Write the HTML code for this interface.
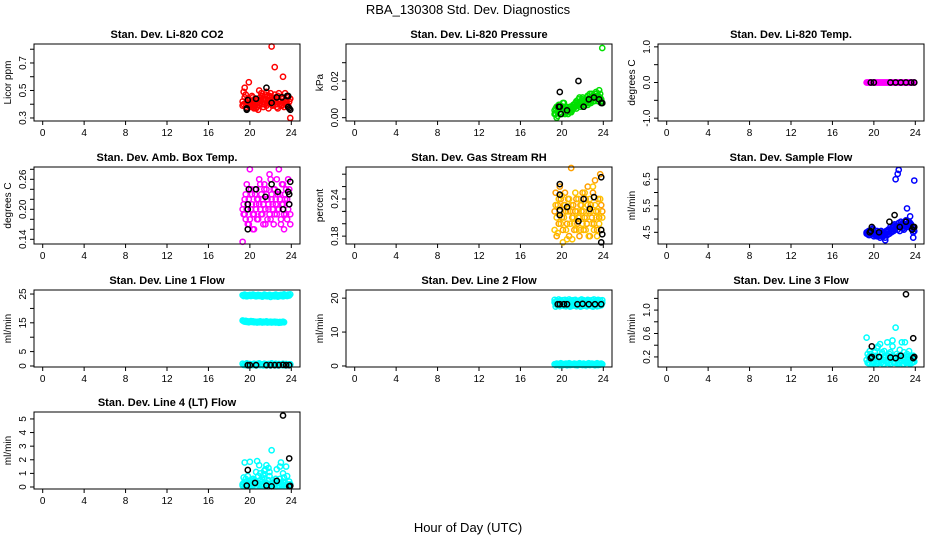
<!DOCTYPE html>
<html><head><meta charset="utf-8"><style>
html,body{margin:0;padding:0;background:#fff;}
svg{display:block;font-family:"Liberation Sans",Arial,sans-serif;}
</style></head><body>
<svg id="chart" width="936" height="540" viewBox="0 0 936 540" xmlns="http://www.w3.org/2000/svg">
<text x="468" y="14" font-size="13" text-anchor="middle">RBA_130308  Std. Dev. Diagnostics</text>
<text x="468" y="532" font-size="13" text-anchor="middle">Hour of Day (UTC)</text>
</svg>
<script>
const hrs=[19.3,19.4,19.5,19.6,19.7,19.8,19.9,20.0,20.1,20.2,20.3,20.4,20.5,20.6,20.7,20.8,20.9,21.0,21.1,21.2,21.3,21.4,21.5,21.6,21.7,21.8,21.9,22.0,22.1,22.2,22.3,22.4,22.5,22.6,22.7,22.8,22.9,23.0,23.1,23.2,23.3,23.4,23.5,23.6,23.7,23.8,23.9];
const xTicks=[0,4,8,12,16,20,24];

const co2A=[0.42,0.40,0.45,0.38,0.41,0.44,0.39,0.43,0.40,0.46,0.38,0.42,0.44,0.37,0.41,0.43,0.39,0.45,0.48,0.40,0.44,0.42,0.47,0.39,0.46,0.43,0.41,0.48,0.45,0.40,0.44,0.47,0.42,0.38,0.46,0.43,0.40,0.45,0.39,0.44,0.41,0.48,0.43,0.40,0.45,0.42,0.44];
const co2B=[0.39,0.49,0.52,0.47,0.37,0.40,0.56,0.38,0.42,0.39,0.45,0.37,0.40,0.43,0.38,0.36,0.50,0.41,0.43,0.46,0.38,0.40,0.44,0.49,0.41,0.37,0.46,0.43,0.82,0.39,0.42,0.67,0.45,0.40,0.37,0.48,0.42,0.39,0.41,0.60,0.38,0.43,0.40,0.46,0.39,0.37,0.30];
const co2BlkX=[19.7,19.7,19.8,20.6,21.6,22.1,22.6,23.1,23.6,23.7,23.8,23.7,23.9];
const co2BlkY=[0.37,0.36,0.43,0.44,0.52,0.41,0.45,0.45,0.46,0.46,0.37,0.38,0.36];

const prsA=[0.004,0.002,0.006,0.001,0.005,0.007,0.003,0.006,0.008,0.004,0.002,0.006,0.003,0.005,0.004,0.006,0.003,0.005,0.007,0.006,0.008,0.009,0.007,0.010,0.008,0.006,0.009,0.011,0.008,0.007,0.010,0.009,0.012,0.008,0.011,0.010,0.013,0.009,0.012,0.011,0.014,0.010,0.012,0.015,0.011,0.009,0.038];
const prsB=[0.002,0.005,0.000,0.004,0.007,0.003,0.005,0.002,0.006,0.008,0.004,0.003,0.005,0.002,0.004,0.003,0.006,0.004,0.005,0.007,0.006,0.005,0.008,0.007,0.011,0.009,0.007,0.010,0.006,0.009,0.008,0.011,0.007,0.010,0.013,0.008,0.010,0.012,0.009,0.011,0.013,0.012,0.009,0.011,0.013,0.010,0.008];
const prsBlkX=[19.8,19.8,19.7,19.9,20.5,21.6,22.1,22.6,23.1,23.6,23.8,23.9];
const prsBlkY=[0.014,0.006,0.006,0.002,0.004,0.020,0.006,0.010,0.011,0.010,0.008,0.008];

const tmpA=[0,0,0,0,0,0,0,0,0,0,0,0,0,0,0,0,0,0,0,0,0,0,0,0,0,0,0,0,0,0,0,0,0,0,0,0,0,0,0,0,0,0,0,0,0,0,0];
const tmpBlkX=[19.7,20.0,21.6,22.1,22.6,23.1,23.6,23.9];
const tmpBlkY=[0,0,0,0,0,0,0,0];

const ambA=[0.20,0.19,0.22,0.18,0.25,0.21,0.17,0.28,0.20,0.23,0.16,0.19,0.24,0.21,0.18,0.22,0.26,0.20,0.23,0.19,0.21,0.25,0.17,0.24,0.22,0.20,0.27,0.18,0.23,0.21,0.24,0.19,0.22,0.26,0.20,0.28,0.23,0.17,0.21,0.25,0.19,0.22,0.24,0.18,0.26,0.21,0.19];
const ambB=[0.135,0.21,0.19,0.23,0.20,0.17,0.22,0.18,0.24,0.21,0.19,0.16,0.23,0.20,0.22,0.18,0.21,0.25,0.19,0.22,0.17,0.24,0.20,0.23,0.18,0.21,0.19,0.26,0.22,0.20,0.17,0.24,0.21,0.19,0.23,0.20,0.22,0.18,0.25,0.21,0.16,0.23,0.19,0.22,0.20,0.24,0.17];
const ambBlkX=[19.8,19.8,19.9,20.6,19.8,21.5,22.1,22.7,23.2,23.7,23.8,23.9,23.8];
const ambBlkY=[0.20,0.21,0.24,0.24,0.16,0.225,0.25,0.235,0.20,0.235,0.23,0.255,0.21];

const rhA=[0.22,0.25,0.18,0.23,0.20,0.26,0.24,0.21,0.19,0.23,0.25,0.22,0.20,0.24,0.18,0.22,0.29,0.21,0.23,0.19,0.22,0.24,0.20,0.21,0.18,0.23,0.22,0.25,0.19,0.21,0.24,0.20,0.26,0.22,0.18,0.23,0.21,0.25,0.20,0.27,0.22,0.19,0.24,0.21,0.28,0.23,0.22];
const rhB=[0.19,0.23,0.21,0.185,0.24,0.22,0.20,0.245,0.17,0.21,0.23,0.19,0.175,0.22,0.24,0.20,0.23,0.175,0.21,0.20,0.25,0.19,0.22,0.24,0.21,0.19,0.23,0.20,0.22,0.25,0.19,0.21,0.23,0.18,0.24,0.22,0.20,0.26,0.19,0.23,0.21,0.18,0.22,0.20,0.24,0.19,0.21];
const rhBlkX=[19.8,19.8,19.8,19.8,20.5,21.6,22.1,22.7,23.1,23.8,23.8,23.9,23.8];
const rhBlkY=[0.264,0.247,0.222,0.214,0.227,0.204,0.240,0.224,0.243,0.275,0.190,0.183,0.170];

const sfA=[4.5,4.45,4.55,4.4,4.5,4.6,4.45,4.35,4.5,4.4,4.55,4.35,4.45,4.3,4.4,4.5,4.35,4.45,4.3,4.5,4.4,4.55,4.45,4.6,4.5,4.7,4.55,4.8,4.65,4.75,4.6,4.85,4.7,4.9,4.75,4.65,4.8,4.9,4.7,5.4,4.85,4.75,5.1,4.8,4.65,4.3,6.45];
const sfB=[4.45,4.5,4.4,4.55,4.45,4.5,4.65,4.5,4.4,4.45,4.35,4.5,4.4,4.45,4.55,4.35,4.45,4.4,4.2,4.55,4.5,4.6,4.45,4.7,4.55,4.65,4.75,4.6,6.5,4.7,6.7,6.85,4.55,4.8,4.7,4.85,4.6,4.75,4.95,4.8,4.7,4.9,4.85,4.75,4.6,4.5,4.55];
const sfBlkX=[19.6,19.7,19.8,20.5,21.5,22.0,22.5,23.1,23.7,23.8,23.9];
const sfBlkY=[4.5,4.55,4.7,4.5,4.9,5.15,4.7,4.9,4.6,4.7,4.7];

const l1A=[24.6,24.3,24.8,24.5,24.2,24.6,24.4,24.7,24.3,24.5,24.8,24.4,24.6,24.2,24.5,24.7,24.3,24.6,24.4,24.1,24.5,24.8,24.3,24.6,24.2,24.4,24.7,24.0,24.5,24.3,24.6,24.2,24.8,24.4,24.1,24.6,24.3,24.7,24.5,24.2,24.9,24.4,24.6,24.3,24.8,24.5,24.9];
const l1B=[15.8,15.6,15.4,15.7,15.3,15.5,15.2,15.4,15.6,15.3,15.5,15.2,15.4,15.3,15.1,15.4,15.2,15.5,15.3,15.1,15.4,15.2,15.3,15.5,15.1,15.3,15.2,15.4,15.1,15.3,15.2,15.4,15.1,15.3,15.2,15.0,15.3,15.1,15.2,15.4,15.2,0.4,0.6,0.3,0.5,0.4,0.6];
const l1C=[0.8,0.4,0.6,0.3,0.9,0.5,0.2,0.7,0.4,0.6,0.3,0.8,0.5,0.2,0.7,0.4,0.9,0.3,0.6,0.5,0.2,0.8,0.4,0.6,0.3,0.7,0.5,0.2,0.9,0.4,0.6,0.3,0.8,0.5,0.2,0.7,0.4,0.6,0.3,0.8,0.5,0.2,0.7,0.4,0.6,0.3,0.5];
const l1BlkX=[19.8,20.0,20.6,21.6,22.0,22.4,22.8,23.2,23.5,23.8];
const l1BlkY=[0.3,0.3,0.3,0.3,0.3,0.3,0.3,0.4,0.3,0.3];

const l2A=[18.8,18.2,19.0,18.5,18.3,18.7,18.1,18.9,18.4,18.6,18.2,18.8,18.5,18.3,18.7,18.0,18.6,18.4,18.9,18.2,18.5,18.7,18.3,18.8,18.4,18.6,18.1,18.9,18.5,18.3,18.7,18.4,18.6,18.2,18.8,18.5,18.3,18.7,18.4,18.9,18.2,18.6,18.5,18.3,18.7,18.4,18.6];
const l2B=[19.5,17.5,19.2,17.8,19.6,17.6,19.3,17.9,19.4,17.7,19.5,17.6,19.2,17.8,19.6,17.5,19.3,17.7,19.4,17.9,19.5,17.6,19.2,17.8,19.3,17.5,19.6,17.7,19.4,17.8,19.2,17.6,19.5,17.9,19.3,17.7,19.4,17.5,19.6,17.8,19.2,17.6,19.5,17.7,19.3,17.9,19.4];
const l2C=[0.5,0.3,0.7,0.4,0.6,0.2,0.8,0.5,0.3,0.6,0.4,0.7,0.2,0.5,0.8,0.3,0.6,0.4,0.5,0.7,0.3,0.6,0.2,0.5,0.8,0.4,0.6,0.3,0.7,0.5,0.2,0.6,0.4,0.8,0.3,0.5,0.7,0.4,0.6,0.2,0.5,0.8,0.3,0.6,0.4,0.7,0.5];
const l2BlkX=[19.6,19.8,20.2,20.5,21.5,22.0,22.6,23.2,23.8];
const l2BlkY=[18.2,18.2,18.2,18.2,18.2,18.3,18.2,18.2,18.2];

const l3A=[0.15,0.25,0.1,0.3,0.18,0.08,0.22,0.12,0.28,0.15,0.35,0.1,0.2,0.42,0.14,0.25,0.08,0.3,0.18,0.12,0.45,0.22,0.1,0.28,0.15,0.48,0.2,0.12,0.7,0.25,0.1,0.18,0.32,0.14,0.22,0.08,0.28,0.45,0.12,0.2,0.15,0.3,0.1,0.22,0.18,0.12,0.2];
const l3B=[0.53,0.1,0.2,0.08,0.25,0.12,0.18,0.1,0.15,0.22,0.08,0.38,0.12,0.2,0.1,0.28,0.15,0.08,0.2,0.12,0.1,0.18,0.25,0.08,0.15,0.38,0.12,0.1,0.2,0.15,0.08,0.22,0.1,0.12,0.45,0.18,0.08,0.15,0.1,0.25,0.12,0.2,0.08,0.15,0.1,0.22,0.12];
const l3BlkX=[19.8,19.7,19.8,20.5,21.6,22.1,22.6,23.1,23.8,23.8,23.9];
const l3BlkY=[0.38,0.18,0.2,0.2,0.19,0.18,0.22,1.27,0.52,0.18,0.2];

const l4A=[0.2,0.7,1.8,0.4,0.1,0.8,0.3,1.85,0.5,0.1,0.6,0.2,0.4,1.1,1.9,0.3,1.6,0.5,0.1,0.7,0.9,1.2,0.3,1.6,0.2,1.4,0.8,0.1,2.7,0.5,0.3,0.2,0.6,1.3,0.4,0.1,1.5,1.8,0.2,1.0,0.7,0.3,1.5,0.8,0.1,0.4,0.2];
const l4B=[0.1,0.3,0.05,0.6,0.2,0.1,0.4,0.05,0.2,0.3,0.1,0.5,0.2,0.05,0.3,0.8,0.1,1.0,0.2,0.4,0.1,0.6,1.3,0.3,0.1,0.5,1.1,0.2,0.05,0.3,0.1,0.4,0.2,0.05,0.3,0.1,0.6,0.2,0.1,0.4,0.05,0.3,0.1,0.2,0.1,0.05,0.1];
const l4BlkX=[19.7,19.8,20.5,21.6,22.1,22.6,23.2,23.8,23.8,23.9];
const l4BlkY=[0.1,1.25,0.3,0.1,0.05,0.45,5.25,2.1,0.05,0.08];

const panels=[
 {name:"co2",title:"Stan. Dev. Li-820 CO2",ylab:"Licor ppm",col:0,row:0,ylim:[0.278,0.838],ticks:[0.3,0.4,0.5,0.6,0.7,0.8],labels:["0.3","","0.5","","0.7",""],series:[[hrs,co2A,"#ff0000"],[hrs,co2B,"#ff0000"],[co2BlkX,co2BlkY,"#000"]]},
 {name:"pressure",title:"Stan. Dev. Li-820 Pressure",ylab:"kPa",col:1,row:0,ylim:[-0.0018,0.0402],ticks:[0,0.01,0.02,0.03],labels:["0.00","","0.02",""],series:[[hrs,prsA,"#00e000"],[hrs,prsB,"#00e000"],[prsBlkX,prsBlkY,"#000"]]},
 {name:"temp",title:"Stan. Dev. Li-820 Temp.",ylab:"degrees C",col:2,row:0,ylim:[-1.08,1.08],ticks:[-1,-0.5,0,0.5,1],labels:["-1.0","","0.0","","1.0"],series:[[hrs,tmpA,"#ff00ff"],[tmpBlkX,tmpBlkY,"#000"]]},
 {name:"amb-box",title:"Stan. Dev. Amb. Box Temp.",ylab:"degrees C",col:0,row:1,ylim:[0.1306,0.2846],ticks:[0.14,0.16,0.18,0.20,0.22,0.24,0.26,0.28],labels:["0.14","","","0.20","","","0.26",""],series:[[hrs,ambA,"#ff00ff"],[hrs,ambB,"#ff00ff"],[ambBlkX,ambBlkY,"#000"]]},
 {name:"rh",title:"Stan. Dev. Gas Stream RH",ylab:"percent",col:1,row:1,ylim:[0.1673,0.2916],ticks:[0.18,0.20,0.22,0.24,0.26,0.28],labels:["0.18","","","0.24","",""],series:[[hrs,rhA,"#ffa000"],[hrs,rhB,"#ffc400"],[rhBlkX,rhBlkY,"#000"]]},
 {name:"sample-flow",title:"Stan. Dev. Sample Flow",ylab:"ml/min",col:2,row:1,ylim:[4.06,6.96],ticks:[4.5,5,5.5,6,6.5],labels:["4.5","","5.5","","6.5"],series:[[hrs,sfA,"#0000ff"],[hrs,sfB,"#0000ff"],[sfBlkX,sfBlkY,"#000"]]},
 {name:"line1",title:"Stan. Dev. Line 1 Flow",ylab:"ml/min",col:0,row:2,ylim:[-0.35,26.4],ticks:[0,5,10,15,20,25],labels:["0","5","","15","","25"],series:[[hrs,l1A,"#00ffff"],[hrs,l1B,"#00ffff"],[hrs,l1C,"#00ffff"],[l1BlkX,l1BlkY,"#000"]]},
 {name:"line2",title:"Stan. Dev. Line 2 Flow",ylab:"ml/min",col:1,row:2,ylim:[-0.3,22.4],ticks:[0,10,20],labels:["0","10","20"],series:[[hrs,l2A,"#00ffff"],[hrs,l2B,"#00ffff"],[hrs,l2C,"#00ffff"],[l2BlkX,l2BlkY,"#000"]]},
 {name:"line3",title:"Stan. Dev. Line 3 Flow",ylab:"ml/min",col:2,row:2,ylim:[0.028,1.343],ticks:[0.2,0.4,0.6,0.8,1.0,1.2],labels:["0.2","","0.6","","1.0",""],series:[[hrs,l3A,"#00ffff"],[hrs,l3B,"#00ffff"],[l3BlkX,l3BlkY,"#000"]]},
 {name:"line4",title:"Stan. Dev. Line 4 (LT) Flow",ylab:"ml/min",col:0,row:3,ylim:[-0.147,5.51],ticks:[0,1,2,3,4,5],labels:["0","1","2","3","4","5"],series:[[hrs,l4A,"#00ffff"],[hrs,l4B,"#00ffff"],[l4BlkX,l4BlkY,"#000"]]}
];

const NS="http://www.w3.org/2000/svg";
const svg=document.getElementById('chart');
const colLeft=[34,346,658], boxW=266;
const rowTop=[44,167,290,412], boxH=77;
const XMIN=-0.84, XMAX=24.84;
function mk(tag,attrs,parent){const e=document.createElementNS(NS,tag);for(const k in attrs)e.setAttribute(k,attrs[k]);(parent||svg).appendChild(e);return e;}

panels.forEach(p=>{
  const L=colLeft[p.col],T=rowTop[p.row],B=T+boxH,R=L+boxW;
  const xs=h=>L+(h-XMIN)/(XMAX-XMIN)*boxW;
  const ys=v=>B-(v-p.ylim[0])/(p.ylim[1]-p.ylim[0])*boxH;
  const g=mk('g',{});
  
  
  const t=mk('text',{x:(L+R)/2,y:T-6,'font-size':11,'font-weight':'bold','text-anchor':'middle'},g);
  t.textContent=p.title;
  
  
  const yl=mk('text',{transform:`translate(${L-23},${(T+B)/2}) rotate(-90)`,'font-size':10,'text-anchor':'middle'},g);
  yl.textContent=p.ylab;
  
  
  const ax=mk('g',{},g);
  
  
  mk('line',{x1:xs(xTicks[0]),x2:xs(xTicks[xTicks.length-1]),y1:B,y2:B,stroke:'#000'},ax);
  xTicks.forEach(v=>{
    mk('line',{x1:xs(v),x2:xs(v),y1:B,y2:B+4,stroke:'#000'},ax);
    const tx=mk('text',{x:xs(v),y:B+15,'font-size':10,'text-anchor':'middle'},ax);
    tx.textContent=v;
  });
  const ay=mk('g',{},g);
  
  
  p.ticks.forEach((v,i)=>{
    mk('line',{x1:L-4,x2:L,y1:ys(v),y2:ys(v),stroke:'#000'},ay);
    if(p.labels[i]){
      const ty=mk('text',{transform:`translate(${L-8},${ys(v)}) rotate(-90)`,'font-size':10,'text-anchor':'middle'},ay);
      ty.textContent=p.labels[i];
    }
  });
  const pts=mk('g',{fill:'none','stroke-width':1.5},g);
  
  
  p.series.forEach(s=>{
    const [xArr,yArr,c]=s;
    for(let i=0;i<xArr.length;i++){
      const ci=mk('circle',{cx:xs(xArr[i]),cy:ys(yArr[i]),r:2.6,stroke:c},pts);
      
      
    }
  });
  const box=mk('rect',{x:L,y:T,width:boxW,height:boxH,fill:'none',stroke:'#000','stroke-width':1},g);
  
  
});
</script>
</body></html>
